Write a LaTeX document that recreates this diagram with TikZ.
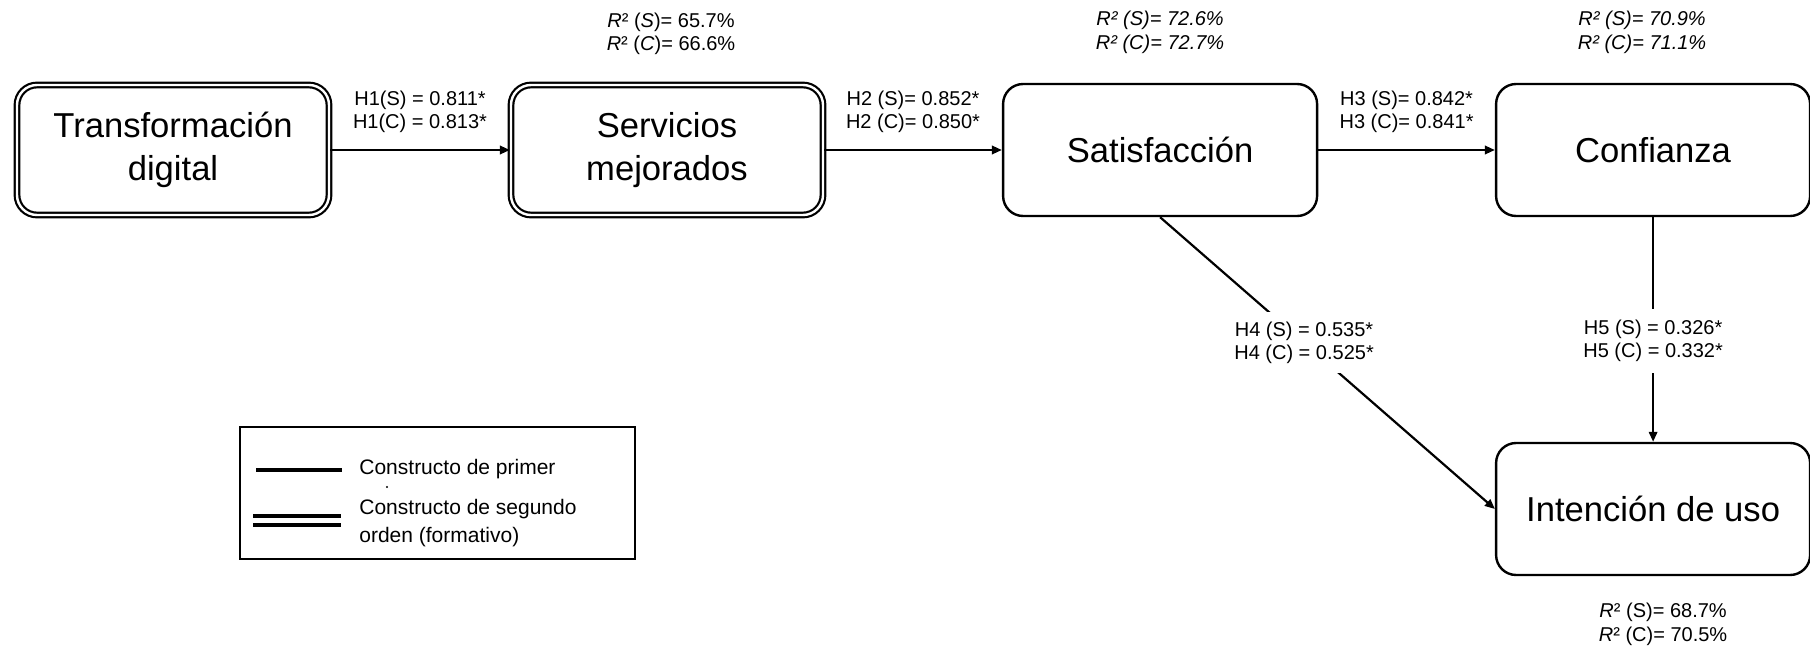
\documentclass[tikz,border=0pt]{standalone}
\usepackage{fontspec}
\setmainfont{Liberation Sans}
\usetikzlibrary{arrows.meta, positioning}

\begin{document}
\begin{tikzpicture}[x=0.5pt, y=-0.5pt,
  construct/.style={draw=black, line width=1.2pt, rounded corners=10pt, minimum width=157pt, minimum height=66pt, align=center, font=\fontsize{17.3}{21.5}\selectfont},
  second/.style={construct, line width=1.1pt, double, double distance=1.2pt, minimum width=156pt, minimum height=65pt},
  effect/.style={-{Triangle[length=5pt, width=4.2pt]}, line width=1.1pt},
  coef/.style={align=center, font=\fontsize{10}{11.5}\selectfont},
  rsq/.style={align=center, font=\fontsize{10}{11.8}\selectfont},
  legtext/.style={inner sep=1pt, align=left, font=\fontsize{10.5}{14}\selectfont},
  node distance=89pt
]
\useasboundingbox (0,0) rectangle (1810,647);

% constructs
\node[second] (trans) at (173,150) {Transformación\\digital};
\node[second, right=89.9pt of trans] (serv) {Servicios\\mejorados};
\node[construct, right=88.9pt of serv] (sat) {Satisfacción};
\node[construct, right=88.3pt of sat] (conf) {Confianza};
\node[construct, below=112.3pt of conf] (int) {Intención de uso};

% paths
\draw[effect] (trans) -- node[coef, above=5pt] {H1(S) = 0.811*\\H1(C) = 0.813*} (serv);
\draw[effect] (serv) -- node[coef, above=5pt] {H2 (S)= 0.852*\\H2 (C)= 0.850*} (sat);
\draw[effect] (sat) -- node[coef, above=5pt] {H3 (S)= 0.842*\\H3 (C)= 0.841*} (conf);
\draw[effect] (sat.south) -- node[coef, fill=white, inner sep=5pt, pos=0.43] {H4 (S) = 0.535*\\H4 (C) = 0.525*} (int.west);
\draw[effect] (conf) -- node[coef, fill=white, inner sep=5.5pt, pos=0.55] {H5 (S) = 0.326*\\H5 (C) = 0.332*} (int);

% explained variance
\node[rsq, above=11pt of serv, xshift=2pt] (rserv) {\textit{R}² (\textit{S})= 65.7\%\\\textit{R}² (\textit{C})= 66.6\%};
\node[rsq, above=11pt of sat] (rsat) {\textit{R² (S)= 72.6\%}\\\textit{R² (C)= 72.7\%}};
\node[rsq, above=11pt of conf, xshift=-5.5pt] (rconf) {\textit{R² (S)= 70.9\%}\\\textit{R² (C)= 71.1\%}};
\node[rsq, below=10pt of int, xshift=5pt] (rint) {\textit{R}² (S)= 68.7\%\\\textit{R}² (C)= 70.5\%};

% legend
\node[draw, line width=1pt, minimum width=197.5pt, minimum height=66pt] (legend) at (437.5,493) {};
\draw[line width=1.8pt] (256,470) -- (342,470);
\node[legtext, anchor=west] (lfirst) at (357,469) {Constructo de primer};
\fill (387,487) circle (0.6pt);
\draw[line width=1.6pt, double, double distance=2.9pt] (253,520.5) -- (341,520.5);
\node[legtext, anchor=west] (lsecond) at (357,523) {Constructo de segundo\\orden (formativo)};
\end{tikzpicture}
\end{document}
